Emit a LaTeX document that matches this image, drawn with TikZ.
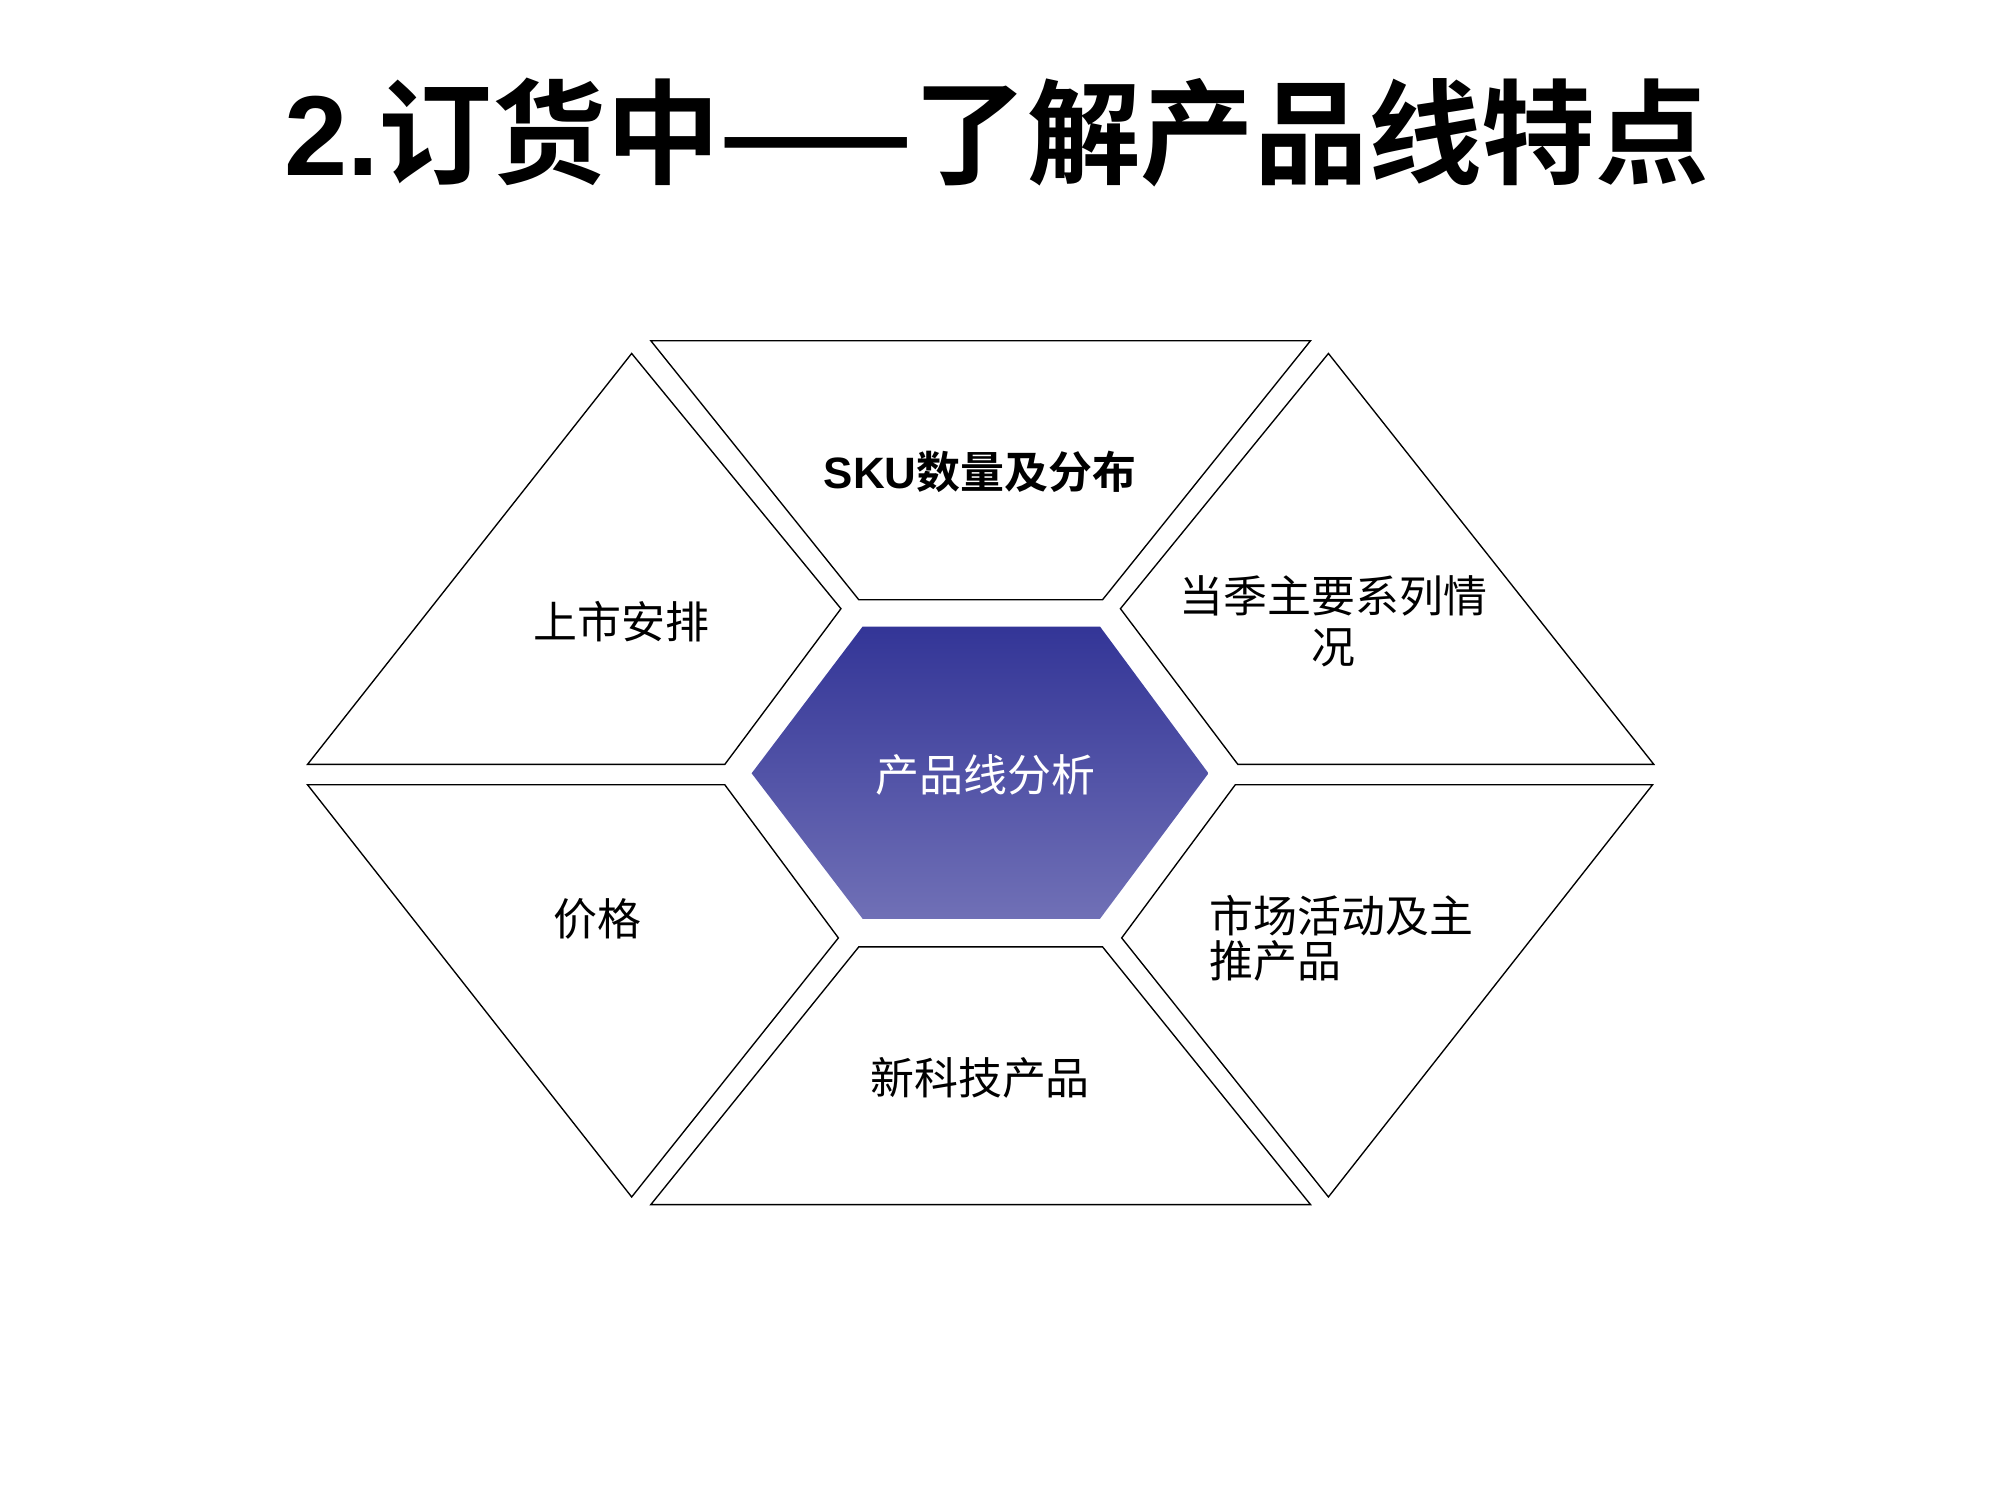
\documentclass[tikz,border=0pt]{standalone}
\usepackage{fontspec}
\usepackage{tikz}
\setmainfont{Liberation Sans}
\newfontfamily\cjk{Noto Sans CJK SC}[BoldFont={Noto Sans CJK SC Bold}]
\definecolor{hextop}{RGB}{51,53,151}
\definecolor{hexbot}{RGB}{112,112,182}
\tikzset{
  piece/.style={draw=black, line width=0.3pt, fill=white, line join=miter},
  lbl/.style={font=\cjk\fontsize{9.7}{11.3}\selectfont, inner sep=0pt}
}

\begin{document}
\begin{tikzpicture}[x=0.0099cm, y=-0.0099cm]
		%%%%% START %%%%%
		\useasboundingbox[fill=white] (0, 0) rectangle (15.52cm, -11.64cm);
		
		% title
		\node[inner sep=0pt] (title) at (781, 104) {\fontsize{25.1}{28}\selectfont\bfseries 2.{\cjk 订货中——了解产品线特点}};
		
		% top and bottom pieces
		\draw[piece] (510, 267) -- (1027, 267) -- (864, 470) -- (673, 470) -- cycle;
		\draw[piece] (673, 742) -- (864, 742) -- (1027, 944) -- (510, 944) -- cycle;
		
		% left pieces
		\draw[piece] (495, 277) -- (659, 477) -- (568, 599) -- (241, 599) -- cycle;
		\draw[piece] (241, 615) -- (568, 615) -- (657, 735) -- (495, 938) -- cycle;
		
		% right pieces
		\draw[piece] (1041, 277) -- (1296, 599) -- (970, 599) -- (878, 477) -- cycle;
		\draw[piece] (968, 615) -- (1295, 615) -- (1041, 938) -- (879, 735) -- cycle;
		
		% centre
		\shade[top color=hextop, bottom color=hexbot] (589, 606) -- (676, 491) -- (862, 491) -- (947, 606) -- (862, 720) -- (676, 720) -- cycle;
		
		\node[lbl, font=\cjk\bfseries\fontsize{9.7}{11.3}\selectfont] (sku) at (768, 370) {{\rmfamily\bfseries SKU}数量及分布};
		\node[lbl] (launch) at (487, 487) {上市安排};
		\node[lbl, align=center] (series) at (1045, 487) {当季主要系列情\\况};
		\node[lbl, text=white] (analysis) at (772, 607) {产品线分析};
		\node[lbl] (price) at (468, 720) {价格};
		\node[lbl, align=left, anchor=west, font=\cjk\fontsize{9.7}{10}\selectfont] (promo) at (947, 735.5) {市场活动及主\\推产品};
		\node[lbl] (tech) at (768, 845) {新科技产品};
		%%%%% END %%%%%
\end{tikzpicture}
\end{document}
